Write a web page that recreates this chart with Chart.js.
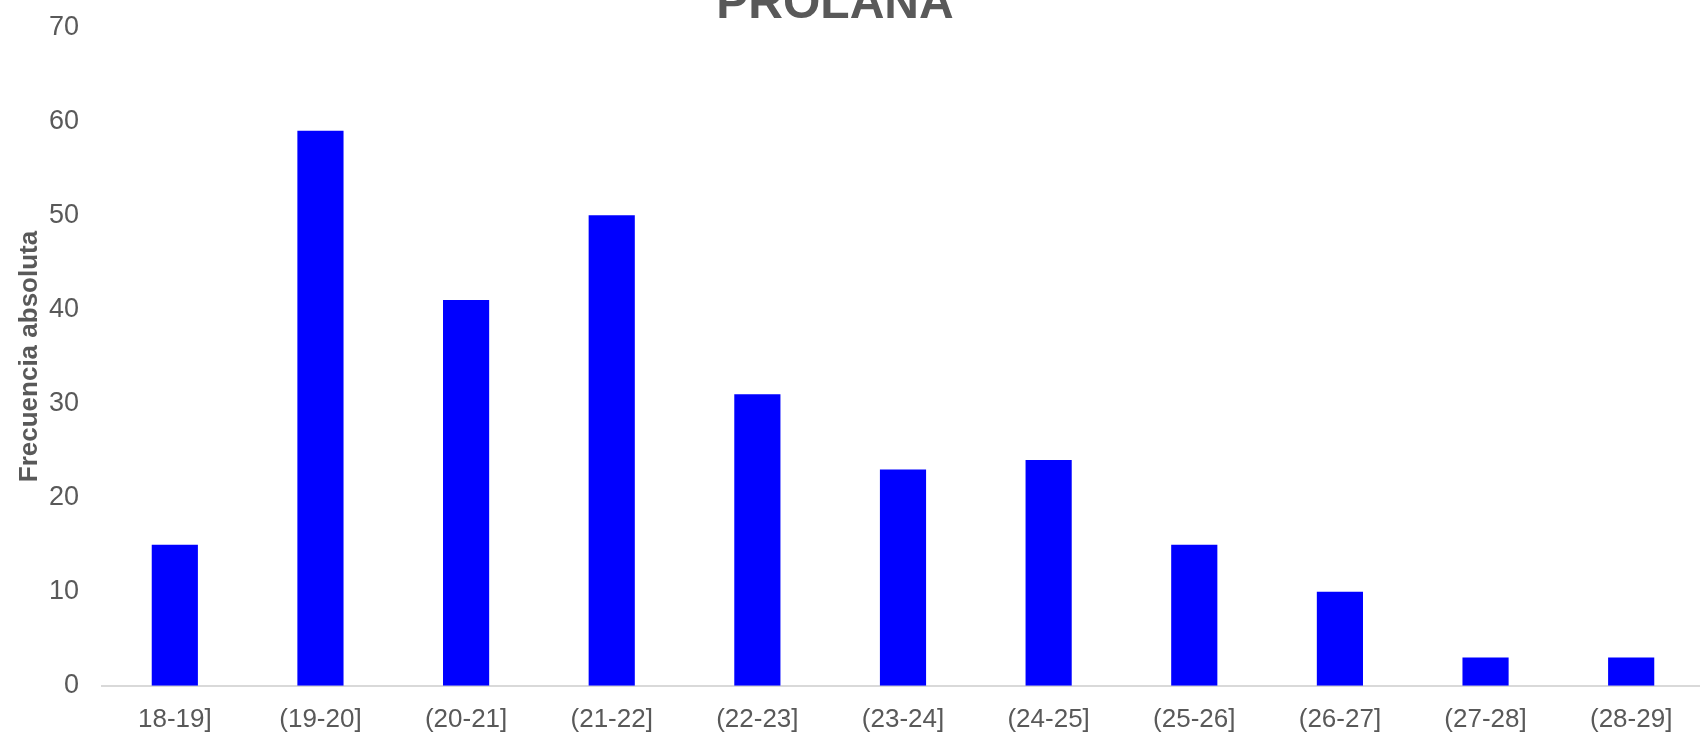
<!DOCTYPE html>
<html>
<head>
<meta charset="utf-8">
<script src="https://cdn.jsdelivr.net/npm/chart.js@4.4.0/dist/chart.umd.min.js"></script>
<style>
  html, body { margin: 0; padding: 0; background: #fff; overflow: hidden; }
  #wrap { width: 1700px; height: 733px; overflow: hidden; }
  #chart { display: block; margin-top: -12px; }
</style>
</head>
<body>
<div id="wrap"><canvas id="chart" width="1704" height="765"></canvas></div>
<script>
// Values
const categories = ['18-19]', '(19-20]', '(20-21]', '(21-22]', '(22-23]', '(23-24]',
  '(24-25]', '(25-26]', '(26-27]', '(27-28]', '(28-29]'];
const frequencies = [15, 59, 41, 50, 31, 23, 24, 15, 10, 3, 3];
const yTicks = [0, 10, 20, 30, 40, 50, 60, 70];

const textGray = '#595959';
const fontFamily = '"Liberation Sans", Arial, sans-serif';

// Title sits partly above the page, so draw it by hand
const titlePlugin = {
  id: 'cutTitle',
  afterDraw(chart) {
    const ctx = chart.ctx;
    ctx.save();
    ctx.font = 'bold 48px ' + fontFamily;
    ctx.fillStyle = textGray;
    ctx.textAlign = 'center';
    ctx.textBaseline = 'alphabetic';
    ctx.fillText('PROLANA', 835, 30);
    ctx.restore();
  }
};

new Chart(document.getElementById('chart'), {
  type: 'bar',
  data: {
    labels: categories,
    datasets: [{
      data: frequencies,
      backgroundColor: '#0000ff',
      barPercentage: 0.317,
      categoryPercentage: 1
    }]
  },
  options: {
    responsive: false,
    animation: false,
    devicePixelRatio: 1,
    layout: { padding: { left: 11, top: 13, right: 0, bottom: 0 } },
    plugins: { legend: { display: false }, tooltip: { enabled: false }, title: { display: false } },
    scales: {
      x: {
        grid: { display: false, drawTicks: false },
        border: { display: true, color: '#d9d9d9', width: 2 },
        ticks: { color: textGray, font: { family: fontFamily, size: 26 }, padding: 18, maxRotation: 0 }
      },
      y: {
        min: 0,
        max: 70,
        afterBuildTicks(scale) { scale.ticks = yTicks.map(v => ({ value: v })); },
        afterFit(scale) { scale.width = 91; },
        grid: { display: false, drawTicks: false },
        border: { display: false },
        ticks: { color: textGray, font: { family: fontFamily, size: 27 }, padding: 23 },
        title: {
          display: true,
          text: 'Frecuencia absoluta',
          color: textGray,
          font: { family: fontFamily, size: 26, weight: 'bold' },
          padding: { top: 3, bottom: 4 }
        }
      }
    }
  },
  plugins: [titlePlugin]
});
</script>
</body>
</html>
